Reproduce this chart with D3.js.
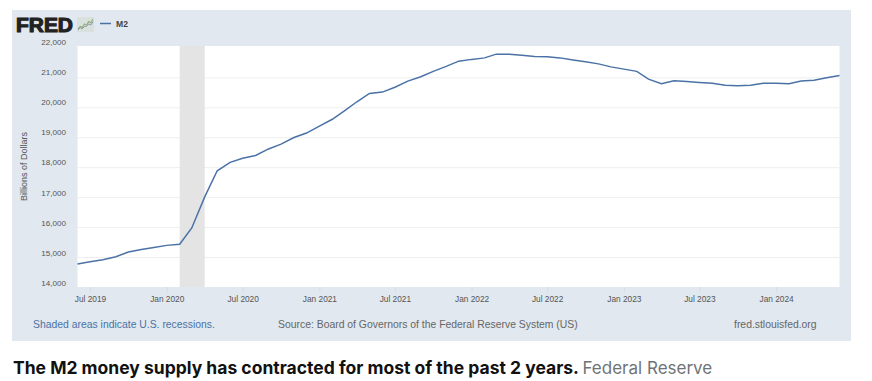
<!DOCTYPE html>
<html>
<head>
<meta charset="utf-8">
<script src="https://cdn.jsdelivr.net/npm/d3@7"></script>
<style>
    html, body { margin: 0; padding: 0; background: #fff; }
    svg { display: block; }
    text { font-family: "Liberation Sans", Arial, sans-serif; }
    .caption text { font-family: Inter, "Noto Sans", sans-serif; }
</style>
</head>
<body>
<div id="chart"></div>
<script>
// M2, billions of dollars, one value a month from Jun 2019 to Jun 2024
var m2_values = [
    14770, 14840, 14910, 15010, 15170, 15250, 15320,
    15390, 15430, 15970, 17010, 17880, 18160, 18300, 18390, 18610, 18770, 18990, 19140,
    19370, 19600, 19870, 20185, 20464, 20508, 20670, 20875, 21020, 21200, 21365, 21540,
    21600, 21650, 21775, 21775, 21740, 21700, 21690, 21650, 21580, 21520, 21450, 21350,
    21275, 21200, 20940, 20785, 20885, 20865, 20830, 20800, 20740, 20720, 20740, 20800,
    20800, 20785, 20875, 20900, 20985, 21065
]
var first_month = new Date(2019, 5, 1)

var y_ticks = [14000, 15000, 16000, 17000, 18000, 19000, 20000, 21000, 22000]
var x_ticks = [
    new Date(2019, 6, 1), new Date(2020, 0, 1), new Date(2020, 6, 1), new Date(2021, 0, 1),
    new Date(2021, 6, 1), new Date(2022, 0, 1), new Date(2022, 6, 1), new Date(2023, 0, 1),
    new Date(2023, 6, 1), new Date(2024, 0, 1)
]
var recession = [new Date(2020, 1, 1), new Date(2020, 3, 1)]

// logo sparkline, index against height
var logo_line_a = [1, 3, 2, 5, 4, 7, 6, 9]
var logo_line_b = [0, 2, 1, 3, 3, 5, 4, 7]

var dataset = m2_values.map(function(d, i) {
    return { 'date': d3.timeMonth.offset(first_month, i), 'value': d }
})

var dataviz_config = {
    'viz_width': 872,
    'viz_height': 381,
    'plot': { 'top': 46, 'right': 839.5, 'bottom': 287, 'left': 77.5 }
}

var svg = d3.select("#chart").append("svg")
.attr('width', dataviz_config.viz_width)
.attr('height', dataviz_config.viz_height)

var xScale = d3.scaleTime()
.domain(d3.extent(dataset, d => d.date))
.range([dataviz_config.plot.left, dataviz_config.plot.right])

var yScale = d3.scaleLinear()
.domain([14000, 22000])
.range([287, 47.4])

// the labels sit a little above their gridlines, and spread slightly wider
var yLabelScale = d3.scaleLinear()
.domain([14000, 22000])
.range([283, 41.7])

// panel and plot background
svg.append('rect')
.attr('x', 12).attr('y', 10).attr('width', 839).attr('height', 331)
.attr('fill', '#e1e8ef')

svg.append('rect')
.attr('x', dataviz_config.plot.left)
.attr('y', dataviz_config.plot.top)
.attr('width', dataviz_config.plot.right - dataviz_config.plot.left)
.attr('height', dataviz_config.plot.bottom - dataviz_config.plot.top)
.attr('fill', '#ffffff')

// grid
var yGrid = svg.append('g')
.attr('transform', 'translate(' + dataviz_config.plot.left + ' 0)')
.call(d3.axisLeft(yScale)
    .tickValues(y_ticks.slice(1, -1))
    .tickSize(-(dataviz_config.plot.right - dataviz_config.plot.left))
    .tickFormat(""))
yGrid.select(".domain").remove()
yGrid.selectAll("line").attr('stroke', '#eeeeee').attr('stroke-width', 1)

// recession band
svg.append('rect')
.attr('x', xScale(recession[0]))
.attr('y', dataviz_config.plot.top)
.attr('width', xScale(recession[1]) - xScale(recession[0]))
.attr('height', dataviz_config.plot.bottom - dataviz_config.plot.top)
.attr('fill', '#e4e4e4')

// axes
var xAxis = svg.append('g')
.attr('transform', 'translate(0 ' + dataviz_config.plot.bottom + ')')
.call(d3.axisBottom(xScale)
    .tickValues(x_ticks)
    .tickSize(5)
    .tickPadding(4)
    .tickFormat(d3.timeFormat("%b %Y")))
xAxis.select(".domain").remove()
xAxis.selectAll("line").attr('stroke', '#d5dde5')
xAxis.selectAll("text")
.attr('font-family', '"Liberation Sans"')
.attr('font-size', 8.3)
.attr('fill', '#555555')

var yAxis = svg.append('g')
.attr('transform', 'translate(66 0)')
.call(d3.axisLeft(yLabelScale)
    .tickValues(y_ticks)
    .tickSize(0)
    .tickPadding(0)
    .tickFormat(d3.format(",")))
yAxis.select(".domain").remove()
yAxis.selectAll("text")
.attr('font-family', '"Liberation Sans"')
.attr('font-size', 8.1)
.attr('fill', '#555555')

svg.append('text')
.attr('transform', 'translate(26.5 166.5) rotate(-90)')
.attr('text-anchor', 'middle')
.attr('font-size', 9)
.attr('fill', '#555555')
.text('Billions of Dollars')

// data line
svg.append('path')
.datum(dataset)
.attr('d', d3.line()
    .x(d => xScale(d.date))
    .y(d => yScale(d.value)))
.attr('fill', 'none')
.attr('stroke', '#4a72a6')
.attr('stroke-width', 1.5)

// FRED logo and legend
svg.append('text')
.attr('x', 16).attr('y', 31.5)
.attr('font-size', 19.5)
.attr('font-weight', 700)
.attr('fill', '#222222')
.attr('stroke', '#222222')
.attr('stroke-width', 1.1)
.attr('textLength', 57)
.attr('lengthAdjust', 'spacingAndGlyphs')
.text('FRED')

svg.append('rect')
.attr('x', 77).attr('y', 17).attr('width', 17).attr('height', 15)
.attr('fill', '#d9e0de')

var logoX = d3.scaleLinear().domain([0, 7]).range([78, 93])
var logoY = d3.scaleLinear().domain([0, 9]).range([30, 19])

svg.append('path')
.attr('d', d3.line().x((d, i) => logoX(i)).y(d => logoY(d))(logo_line_a))
.attr('fill', 'none').attr('stroke', '#8fae72').attr('stroke-width', 1.1)

svg.append('path')
.attr('d', d3.line().x((d, i) => logoX(i)).y(d => logoY(d))(logo_line_b))
.attr('fill', 'none').attr('stroke', '#8a9aa8').attr('stroke-width', 1)

svg.append('line')
.attr('x1', 100).attr('x2', 111).attr('y1', 23.5).attr('y2', 23.5)
.attr('stroke', '#4a72a6').attr('stroke-width', 1.5)

svg.append('text')
.attr('x', 116).attr('y', 26.5)
.attr('font-size', 8.6)
.attr('font-weight', 700)
.attr('fill', '#444444')
.text('M2')

// footer of the panel
svg.append('text')
.attr('x', 33).attr('y', 328)
.attr('font-size', 10.4)
.attr('fill', '#4a72a6')
.text('Shaded areas indicate U.S. recessions.')

svg.append('text')
.attr('x', 278).attr('y', 328)
.attr('font-size', 10.4)
.attr('fill', '#666666')
.text('Source: Board of Governors of the Federal Reserve System (US)')

svg.append('text')
.attr('x', 734).attr('y', 328)
.attr('font-size', 10.4)
.attr('fill', '#666666')
.text('fred.stlouisfed.org')

// caption below the panel
var caption = svg.append('g').classed('caption', true)

caption.append('text')
.attr('x', 13).attr('y', 374)
.attr('font-size', 17.5)
.attr('font-weight', 700)
.attr('fill', '#111111')
.text('The M2 money supply has contracted for most of the past 2 years.')

caption.append('text')
.attr('x', 582.5).attr('y', 374)
.attr('font-size', 17)
.attr('fill', '#6f7376')
.text('Federal Reserve')
</script>
</body>
</html>
